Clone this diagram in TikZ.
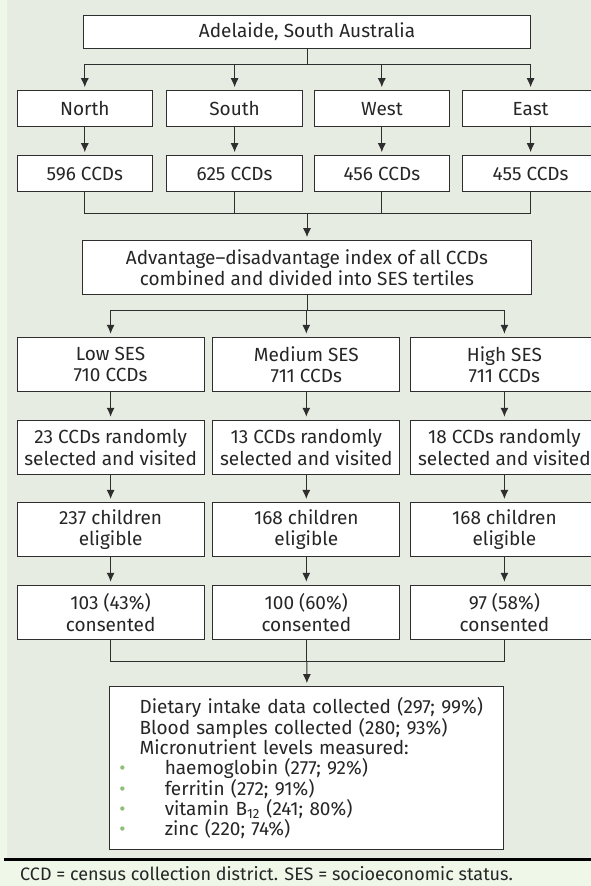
\documentclass[tikz,border=0pt]{standalone}
\usepackage{fontspec}
\setmainfont{Fira Sans}
\usetikzlibrary{arrows.meta}

\definecolor{panelbg}{HTML}{E7ECE2}
\definecolor{stripbg}{HTML}{EEF7E8}
\definecolor{linegrey}{HTML}{2E2E2E}
\definecolor{textgrey}{HTML}{262626}
\definecolor{bulletgreen}{HTML}{8CBF78}

\newcommand{\lineind}{\hspace*{30.2pt}}
\newcommand{\bulitem}{\makebox[55.4pt][l]{\hspace*{10pt}\textcolor{bulletgreen}{\textbullet}}}

\begin{document}
\begin{tikzpicture}[x=1pt,y=-1pt,
font=\fontsize{19}{21.5}\selectfont,
box/.style={rectangle, draw=linegrey, fill=white, line width=1pt, inner sep=0pt, align=center, text=textgrey},
regionbox/.style={box, minimum width=135.6pt, minimum height=36pt},
sesbox/.style={box, minimum width=187pt, minimum height=54.5pt},
link/.style={draw=linegrey, line width=1pt},
arrow/.style={link, -{Latex[length=9pt,width=8pt]}, shorten >=3pt}]

%% local variables
\def \cx {307}
\def \rowR {108.7}
\def \rowC {173.7}

%% page, background and rule
\useasboundingbox (0,0) rectangle (591,886);
\clip (0,0) rectangle (591,886);
\fill[stripbg] (0,0) rectangle (591,886);
\fill[panelbg] (7,0) rectangle (591,859);
\draw[line width=2.2pt, black] (4,859.5) -- (591,859.5);

%% city and regions
\node[box, minimum width=446.3pt, minimum height=33.3pt] (city) at (\cx,31.7) {Adelaide, South Australia};

\foreach \n/\x/\lab in {N/84.8/North, S/234.6/South, W/381.8/West, E/530.6/East}
      \node[regionbox] (R-\n) at (\x,\rowR) {\lab};

\foreach \n/\x/\lab in {N/84.8/596 CCDs, S/234.6/625 CCDs, W/381.8/456 CCDs, E/530.6/455 CCDs}
      \node[regionbox] (C-\n) at (\x,\rowC) {\lab};

%% index box
\node[box, minimum width=448.5pt, minimum height=54.3pt] (index) at (\cx,267.8)
      {Advantage–disadvantage index of all CCDs\\combined and divided into SES tertiles};

%% SES columns
\foreach \n/\x/\a/\b/\c/\d in {
      L/110.6/{Low SES\\710 CCDs}/{23 CCDs randomly\\selected and visited}/{237 children\\eligible}/{103 (43\%)\\consented},
      M/306.3/{Medium SES\\711 CCDs}/{13 CCDs randomly\\selected and visited}/{168 children\\eligible}/{100 (60\%)\\consented},
      H/504.4/{High SES\\711 CCDs}/{18 CCDs randomly\\selected and visited}/{168 children\\eligible}/{97 (58\%)\\consented}}
{
      \node[sesbox] (ses-\n) at (\x,364.5) {\a};
      \node[sesbox] (visit-\n) at (\x,447.5) {\b};
      \node[sesbox] (elig-\n) at (\x,529.7) {\c};
      \node[sesbox] (cons-\n) at (\x,612.5) {\d};
}

%% outcome box
\node[box, minimum width=393.7pt, minimum height=163.3pt, text width=393.7pt, align=left,
      font=\fontsize{19}{20.3}\selectfont] (data) at (306.2,768.3)
      {\lineind Dietary intake data collected (297; 99\%)\\
       \lineind Blood samples collected (280; 93\%)\\
       \lineind Micronutrient levels measured:\\
       \bulitem haemoglobin (277; 92\%)\\
       \bulitem ferritin (272; 91\%)\\
       \bulitem vitamin B\textsubscript{12} (241; 80\%)\\
       \bulitem zinc (220; 74\%)};

%% caption
\node[anchor=base west, inner sep=0pt, text=textgrey, font=\fontsize{18}{20}\selectfont] (caption) at (20,880.5)
      {CCD = census collection district. SES = socioeconomic status.};

%% connectors
\coordinate (split1) at (\cx,64.3);
\coordinate (merge1) at (\cx,213.3);
\coordinate (split2) at (\cx,310.7);
\coordinate (merge2) at (\cx,661);

\draw[link] (city) -- (split1);
\foreach \n in {N,S,W,E}
{
      \draw[arrow] (split1) -| (R-\n);
      \draw[arrow] (R-\n) -- (C-\n);
      \draw[link] (C-\n) |- (merge1);
}
\draw[arrow] (merge1) -- (index);
\draw[link] (index) -- (split2);
\foreach \n in {L,M,H}
{
      \draw[arrow] (split2) -| (ses-\n);
      \draw[arrow] (ses-\n) -- (visit-\n);
      \draw[arrow] (visit-\n) -- (elig-\n);
      \draw[arrow] (elig-\n) -- (cons-\n);
      \draw[link] (cons-\n) |- (merge2);
}
\draw[arrow] (merge2) -- (data);

\end{tikzpicture}
\end{document}
